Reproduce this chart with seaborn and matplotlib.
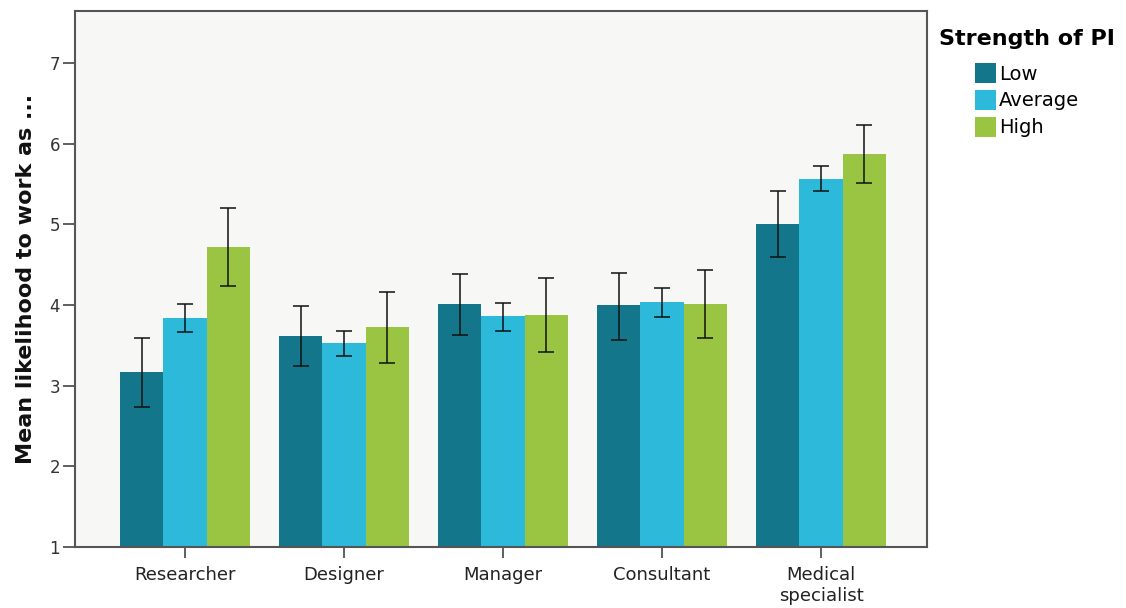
import matplotlib
matplotlib.use("Agg")
import matplotlib.pyplot as plt
import seaborn as sns
import pandas as pd
import numpy as np

categories = ["Researcher", "Designer", "Manager", "Consultant", "Medical\nspecialist"]
levels = ["Low", "Average", "High"]
low_mean = [3.17, 3.62, 4.01, 4.00, 5.01]
low_err_hi = [3.59, 3.99, 4.38, 4.40, 5.42]
low_err_lo = [2.73, 3.24, 3.63, 3.57, 4.59]
avg_mean = [3.84, 3.53, 3.86, 4.04, 5.57]
avg_err_hi = [4.01, 3.68, 4.03, 4.21, 5.72]
avg_err_lo = [3.66, 3.37, 3.68, 3.85, 5.42]
high_mean = [4.72, 3.73, 3.88, 4.01, 5.88]
high_err_hi = [5.20, 4.16, 4.33, 4.43, 6.23]
high_err_lo = [4.23, 3.28, 3.42, 3.59, 5.52]
colors = ["#13768A", "#2DB9D9", "#99C543"]

means = [low_mean, avg_mean, high_mean]
his = [low_err_hi, avg_err_hi, high_err_hi]
los = [low_err_lo, avg_err_lo, high_err_lo]

rows = []
for lvl, m in zip(levels, means):
    for c, v in zip(categories, m):
        rows.append({"Job": c, "PI": lvl, "Mean": v})
df = pd.DataFrame(rows)

fig = plt.figure(figsize=(11.26, 6.08), dpi=100)
ax = fig.add_axes([0.0669, 0.1008, 0.7561, 0.8812])
ax.set_facecolor("#F7F7F5")

sns.barplot(data=df, x="Job", y="Mean", hue="PI", hue_order=levels,
            order=categories, palette=colors, width=0.82, errorbar=None,
            saturation=1, linewidth=0, ax=ax)

for cont, hi, lo in zip(ax.containers, his, los):
    xs = [p.get_x() + p.get_width() / 2 for p in cont.patches]
    ys = [p.get_height() for p in cont.patches]
    yerr = [np.array(ys) - np.array(lo), np.array(hi) - np.array(ys)]
    ax.errorbar(xs, ys, yerr=yerr, fmt="none", ecolor="#111111",
                elinewidth=1.1, capsize=6, capthick=1.1, zorder=5)

ax.set_ylim(1, 7.65)
ax.set_xlim(-0.69, 4.665)
ax.set_yticks([1, 2, 3, 4, 5, 6, 7])
ax.tick_params(axis="y", labelsize=12, labelcolor="#333333", length=9,
               width=1.2, color="#444444", pad=2)
ax.tick_params(axis="x", labelsize=13, labelcolor="#222222", length=8,
               width=1.2, color="#444444", pad=6)
for s in ax.spines.values():
    s.set_color("#555555")
    s.set_linewidth(1.5)
ax.set_xlabel("")
ax.set_ylabel("Mean likelihood to work as ...", fontsize=16, fontweight="bold",
              color="#111111", labelpad=10)

leg = ax.legend(title="Strength of PI", loc="upper left",
                bbox_to_anchor=(0.834, 0.952), bbox_transform=fig.transFigure,
                frameon=False, fontsize=14, title_fontproperties={"weight": "bold", "size": 16},
                handlelength=1.1, handleheight=1.2, handletextpad=0.15,
                labelspacing=0.32, borderaxespad=0, borderpad=0)
leg._legend_box.align = "center"
leg._legend_box.sep = 10

fig.savefig("out.png", dpi=100)
